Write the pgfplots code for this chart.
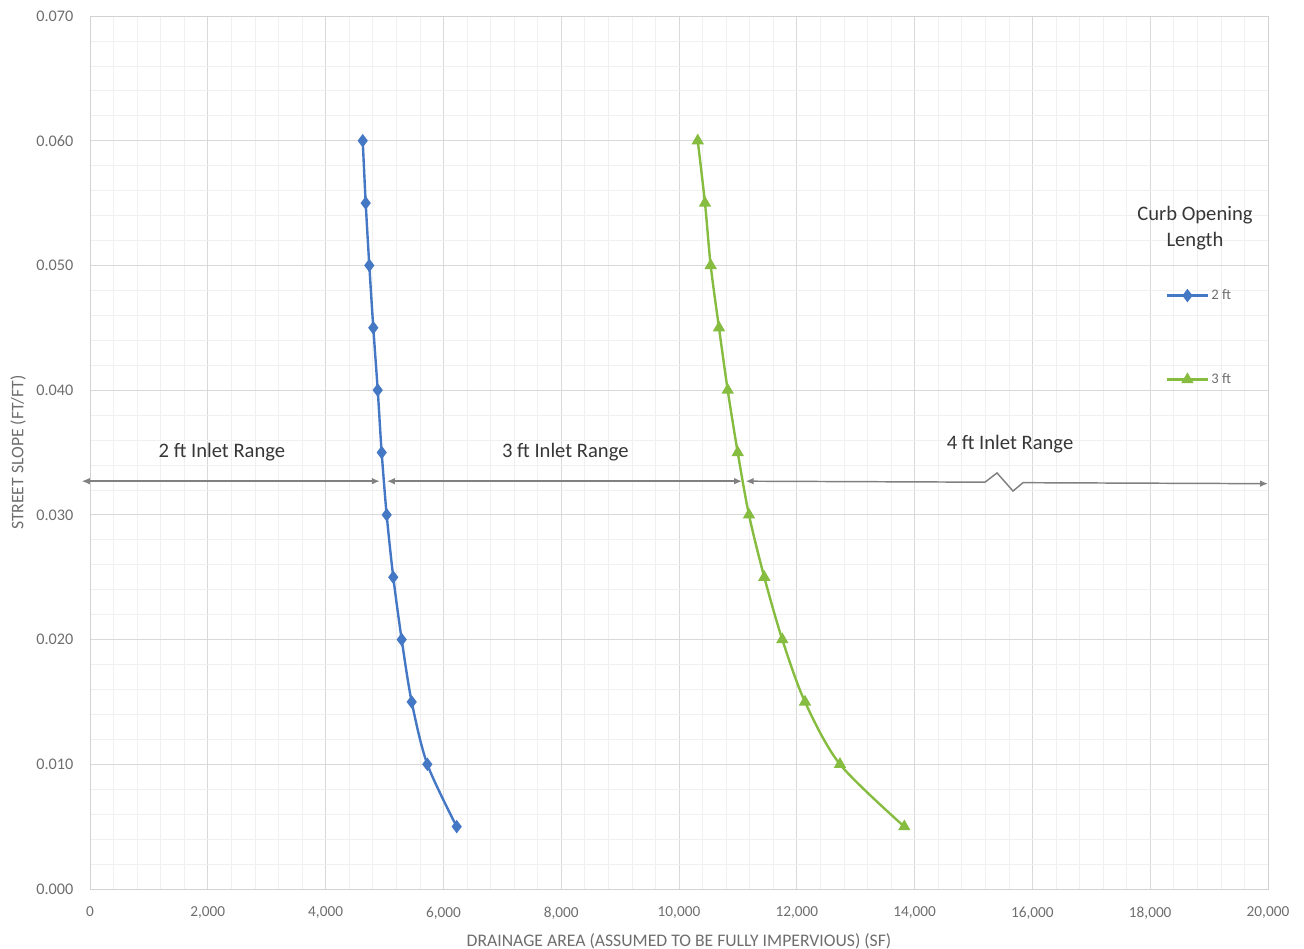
\documentclass[border=0pt]{standalone}
\usepackage{fontspec}
\setmainfont{Carlito}
\usepackage{pgfplots}
\pgfplotsset{compat=1.18}
\usetikzlibrary{calc,arrows.meta}
\definecolor{ser1}{RGB}{68,119,196}
\definecolor{ser2}{RGB}{134,188,64}
\definecolor{tickgray}{RGB}{110,110,110}
\definecolor{labgray}{RGB}{55,55,55}
\definecolor{arrowgray}{RGB}{128,128,128}

% drainage area (SF) vs street slope
\pgfplotstableread{
x y
4630 0.060
4681 0.055
4742 0.050
4810 0.045
4885 0.040
4952 0.035
5037 0.030
5149 0.025
5292 0.020
5462 0.015
5727 0.010
6226 0.005
}\twoft
\pgfplotstableread{
x y
10318 0.060
10441 0.055
10538 0.050
10679 0.045
10827 0.040
10997 0.035
11188 0.030
11448 0.025
11754 0.020
12139 0.015
12733 0.010
13825 0.005
}\threeft

\begin{document}
\begin{tikzpicture}
\begin{axis}[
  name=ax,
  scale only axis, width=883.5bp, height=654.75bp,
  xmin=0, xmax=20000, ymin=0, ymax=0.07,
  xtick distance=2000, ytick distance=0.01,
  minor tick num=4,
  grid=both,
  major grid style={draw=gray!30, line width=0.6bp},
  minor grid style={draw=gray!12, line width=0.5bp},
  major tick length=0, minor tick length=0,
  axis line style={draw=gray!35},
  scaled ticks=false,
  clip=false,
  /pgf/number format/assume math mode=true,
  tick label style={text=tickgray},
  xticklabel style={font=\fontsize{11.5}{13}\selectfont, yshift=-10bp,
    /pgf/number format/1000 sep={,}},
  yticklabel style={font=\fontsize{12.2}{14}\selectfont, xshift=-9bp,
    /pgf/number format/fixed,
    /pgf/number format/fixed zerofill, /pgf/number format/precision=3},
  xlabel={DRAINAGE AREA (ASSUMED TO BE FULLY IMPERVIOUS) (SF)},
  ylabel={STREET SLOPE (FT/FT)},
  label style={font=\fontsize{13.3}{15}\selectfont, text=tickgray},
  xlabel style={at={(axis description cs:0.5,-0.0596)}, anchor=center},
  ylabel style={at={(axis description cs:-0.0611,0.5)}, anchor=center},
  legend style={at={(rel axis cs:0.910,0.693)}, anchor=north west,
    draw=none, fill=none, row sep=50bp,
    font=\fontsize{11}{13}\selectfont, text=tickgray},
  legend cell align=left,
  legend image code/.code={\draw[mark repeat=2,mark phase=2]
    plot coordinates {(0bp,0bp)(15bp,0bp)(30bp,0bp)};},
]
\addplot[ser1, line width=1.8bp, smooth, mark=diamond*, mark size=3.6bp,
  mark options={solid, fill=ser1}] table[x=x,y=y] {\twoft};
\addlegendentry{2 ft}
\addplot[ser2, line width=1.8bp, smooth, mark=triangle*, mark size=3.6bp,
  mark options={solid, fill=ser2}] table[x=x,y=y] {\threeft};
\addlegendentry{3 ft}

\node[font=\fontsize{15.5}{19.5}\selectfont, text=labgray, align=center]
  at (axis cs:18760,0.0530) {Curb Opening\\Length};

\draw[arrowgray, line width=1.1bp,
  {Latex[length=6bp,width=5bp]}-{Latex[length=6bp,width=5bp]}]
  (axis cs:-140,0.0327) -- (axis cs:4920,0.0327);
\draw[arrowgray, line width=1.1bp,
  {Latex[length=6bp,width=5bp]}-{Latex[length=6bp,width=5bp]}]
  (axis cs:5040,0.0327) -- (axis cs:11070,0.0327);
\draw[arrowgray, line width=1.1bp,
  {Latex[length=6bp,width=5bp]}-{Latex[length=6bp,width=5bp]}]
  (axis cs:11130,0.0327) -- (axis cs:15195,0.03262)
  -- (axis cs:15399,0.03336) -- (axis cs:15671,0.03191)
  -- (axis cs:15840,0.03258) -- (axis cs:20000,0.03250);

\node[font=\fontsize{15.5}{18}\selectfont, text=labgray]
  at (axis cs:2240,0.0350) {2 ft Inlet Range};
\node[font=\fontsize{15.5}{18}\selectfont, text=labgray]
  at (axis cs:8070,0.0350) {3 ft Inlet Range};
\node[font=\fontsize{15.5}{18}\selectfont, text=labgray]
  at (axis cs:15620,0.0357) {4 ft Inlet Range};
\end{axis}
\pgfresetboundingbox
\path[use as bounding box] ($(ax.south west)+(-67.5bp,-45bp)$)
  rectangle ($(ax.north east)+(27bp,12bp)$);
\end{tikzpicture}
\end{document}
